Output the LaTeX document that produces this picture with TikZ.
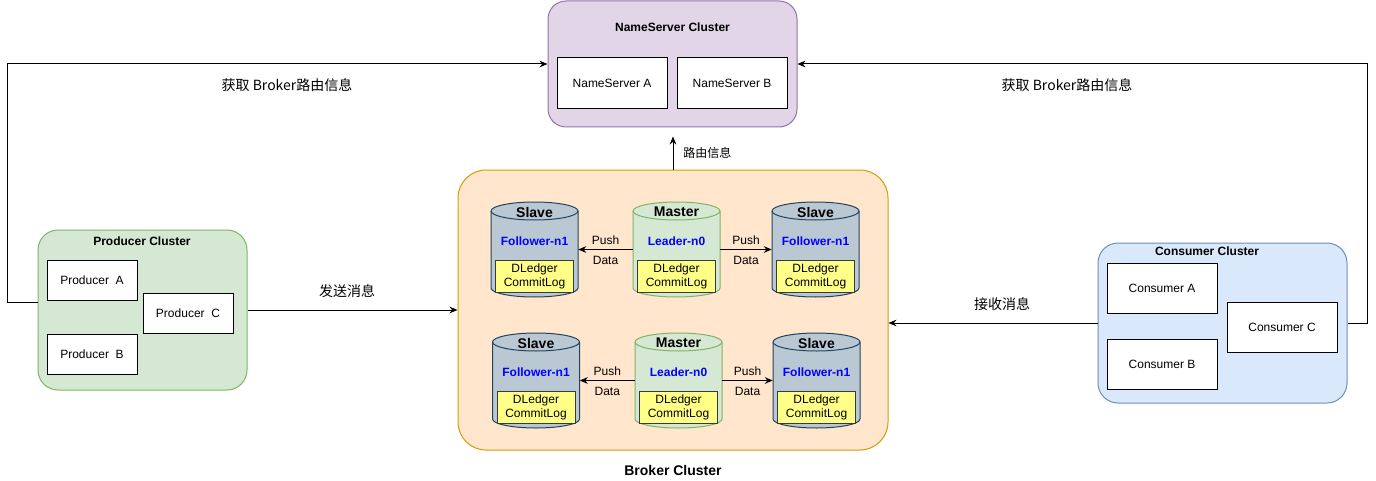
\documentclass[tikz,border=0pt]{standalone}
\usepackage{fontspec}
\setmainfont{Liberation Sans}
\newfontfamily\cjk{Noto Sans CJK SC}
\usetikzlibrary{arrows.meta}
\definecolor{nsfill}{HTML}{E1D5E7}
\definecolor{nsline}{HTML}{9673A6}
\definecolor{brfill}{HTML}{FFE6CC}
\definecolor{brline}{HTML}{D79B00}
\definecolor{prfill}{HTML}{D5E8D4}
\definecolor{prline}{HTML}{82B366}
\definecolor{cofill}{HTML}{DAE8FC}
\definecolor{coline}{HTML}{6C8EBF}
\definecolor{slfill}{HTML}{BAC8D3}
\definecolor{slline}{HTML}{23445D}
\definecolor{dlfill}{HTML}{FFFF88}
\definecolor{dlline}{HTML}{36393D}
\definecolor{fblue}{HTML}{0000FF}

\begin{document}
\begin{tikzpicture}[x=0.75pt,y=0.75pt,
    every node/.style={font=\fontsize{9}{11}\selectfont},
    cluster/.style={draw,line width=0.75pt,inner sep=0pt},
    title/.style={font=\bfseries\fontsize{9}{11}\selectfont},
    bigtitle/.style={font=\bfseries\fontsize{10.5}{12}\selectfont},
    cjklabel/.style={font=\cjk\fontsize{10.5}{12}\selectfont},
    srvbox/.style={draw,fill=white,line width=0.75pt,inner sep=0pt,minimum width=82.5pt},
    prodbox/.style={draw,fill=white,line width=0.75pt,inner sep=0pt,minimum width=67.5pt,minimum height=30pt},
    dlbox/.style={draw=dlline,fill=dlfill,line width=0.75pt,inner sep=0pt,minimum width=58.5pt,minimum height=24pt,align=center,font=\fontsize{9}{10.5}\selectfont},
    arr/.style={line width=0.75pt,-{Stealth[length=6pt,width=5pt]}}]
    \useasboundingbox (0,0) rectangle (1376,-481);

    \node[cluster,fill=nsfill,draw=nsline,rounded corners=13.5pt,minimum width=186.75pt,minimum height=94.5pt] (ns) at (672.5,-64) {};
    \node[title] (nstitle) at (672.5,-27) {NameServer Cluster};
    \node[srvbox,minimum height=38.25pt] (nsa) at (612,-83.5) {NameServer A};
    \node[srvbox,minimum height=38.25pt] (nsb) at (732,-83.5) {NameServer B};

    \node[cluster,fill=brfill,draw=brline,rounded corners=21pt,minimum width=322.5pt,minimum height=210pt] (broker) at (673,-310) {};
    \node[bigtitle] (brtitle) at (673,-470) {Broker Cluster};

    \node[cluster,fill=prfill,draw=prline,rounded corners=15pt,minimum width=156.75pt,minimum height=120pt] (prod) at (142.5,-310) {};
    \node[title] (prtitle) at (142,-241) {Producer Cluster};
    \node[prodbox] (proda) at (92,-280) {Producer\ \ A};
    \node[prodbox] (prodc) at (188,-313) {Producer\ \ C};
    \node[prodbox] (prodb) at (92,-354) {Producer\ \ B};

    \node[cluster,fill=cofill,draw=coline,rounded corners=15pt,minimum width=186.75pt,minimum height=120pt] (cons) at (1222.5,-323) {};
    \node[title] (cotitle) at (1207,-251) {Consumer Cluster};
    \node[srvbox,minimum height=37.5pt] (consa) at (1162,-288) {Consumer A};
    \node[srvbox,minimum height=37.5pt] (consc) at (1282,-327) {Consumer C};
    \node[srvbox,minimum height=37.5pt] (consb) at (1162,-364) {Consumer B};

    \foreach \nm/\cx/\top/\fc/\lc/\role/\id in {s1/534.5/202/slfill/slline/Slave/Follower-n1,m1/676.5/202/prfill/prline/Master/Leader-n0,t1/815.5/202/slfill/slline/Slave/Follower-n1,s2/536/333/slfill/slline/Slave/Follower-n1,m2/678.5/333/prfill/prline/Master/Leader-n0,t2/816.5/333/slfill/slline/Slave/Follower-n1}{
        \filldraw[fill=\fc,draw=\lc,line width=0.75pt] (\cx-43.5,-\top-9) -- (\cx-43.5,-\top-86) arc (180:360:32.625pt and 6.75pt) -- (\cx+43.5,-\top-9) arc (0:180:32.625pt and 6.75pt) -- cycle;
        \draw[\lc,line width=0.75pt] (\cx-43.5,-\top-9) arc (180:360:32.625pt and 6.75pt);
        \node[inner sep=0pt,minimum width=65.25pt,minimum height=71.25pt] (\nm) at (\cx,-\top-47.5) {};
        \node[bigtitle] (\nm role) at (\cx,-\top-10) {\role};
        \node[title,text=fblue] (\nm id) at (\cx,-\top-39) {\id};
        \node[dlbox] (\nm log) at (\cx,-\top-74) {DLedger\\CommitLog};
    }

    \draw[arr] (m1) -- node[above] {Push} node[below=1.5pt] {Data} (s1);
    \draw[arr] (m1) -- node[above] {Push} node[below=1.5pt] {Data} (t1);
    \draw[arr] (m2) -- node[above] {Push} node[below=1.5pt] {Data} (s2);
    \draw[arr] (m2) -- node[above] {Push} node[below=1.5pt] {Data} (t2);

    \draw[arr] ([yshift=6pt]prod.west) -- ++(-30,0) |- (ns.west);
    \draw[arr] (cons.east) -- ++(20,0) |- (ns.east);
    \node[cjklabel] (getl) at (287,-85) {获取 Broker路由信息};
    \node[cjklabel] (getr) at (1067,-85) {获取 Broker路由信息};

    \draw[arr] (broker.north) -- node[right=4pt,font=\cjk\fontsize{9}{11}\selectfont] {路由信息} ++(0,33);
    \draw[arr] (prod) -- (broker);
    \node[cjklabel] (send) at (347,-291) {发送消息};
    \draw[arr] (cons.west) -- (cons.west -| broker.east);
    \node[cjklabel] (recv) at (1002,-304) {接收消息};
\end{tikzpicture}
\end{document}
